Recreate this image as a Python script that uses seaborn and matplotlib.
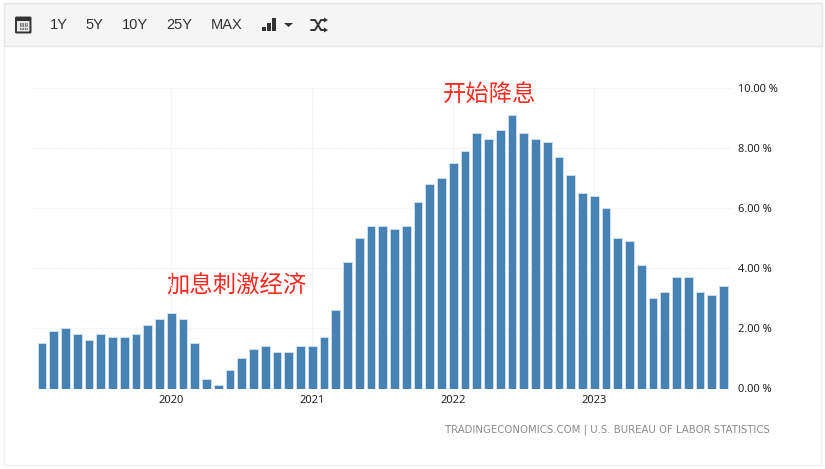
import pandas as pd
import matplotlib.pyplot as plt
import matplotlib.patches as mp
import seaborn as sns

# CPI anual, feb 2019 - dic 2023
meses = pd.date_range('2019-02-01', '2023-12-01', freq='MS').strftime('%Y-%m').tolist()
valores = [1.5, 1.9, 2.0, 1.8, 1.6, 1.8, 1.7, 1.7, 1.8, 2.1, 2.3,
           2.5, 2.3, 1.5, 0.3, 0.1, 0.6, 1.0, 1.3, 1.4, 1.2, 1.2, 1.4,
           1.4, 1.7, 2.6, 4.2, 5.0, 5.4, 5.4, 5.3, 5.4, 6.2, 6.8, 7.0,
           7.5, 7.9, 8.5, 8.3, 8.6, 9.1, 8.5, 8.3, 8.2, 7.7, 7.1, 6.5,
           6.4, 6.0, 5.0, 4.9, 4.1, 3.0, 3.2, 3.7, 3.7, 3.2, 3.1, 3.4]
anios = ['2020', '2021', '2022', '2023']
marcas_y = [0, 2, 4, 6, 8, 10]
botones = ['1Y', '5Y', '10Y', '25Y', 'MAX']
botones_x = [59, 94, 135, 179, 227]

W, H = 825, 469
df = pd.DataFrame({'mes': meses, 'valor': valores})

sns.set_style('white')
plt.rcParams['font.family'] = ['Liberation Sans', 'Noto Sans CJK SC', 'DejaVu Sans']

fig = plt.figure(figsize=(W / 100, H / 100), dpi=100, facecolor='#fdfdfd')

# capa en pixeles para el marco y la barra de botones
capa = fig.add_axes([0, 0, 1, 1])
capa.set_xlim(0, W)
capa.set_ylim(H, 0)
capa.axis('off')
capa.add_patch(mp.Rectangle((4, 46), 817, 419, fc='white', ec='#f2f2f2', lw=1))
capa.add_patch(mp.Rectangle((4, 3), 818, 43, fc='#f5f5f5', ec='#e6e6e6', lw=1))
for b, x in zip(botones, botones_x):
    capa.text(x, 25, b, ha='center', va='center', fontsize=10.5, color='#333333')

# icono calendario
capa.add_patch(mp.FancyBboxPatch((16.5, 18), 13.5, 14, boxstyle='round,pad=0.5', fc='#e8e8e8', ec='#333333', lw=1.4))
capa.add_patch(mp.Rectangle((16, 17.5), 14.5, 3.5, fc='#333333', ec='none'))
for fila in (24, 26.5, 29):
    capa.plot([19.5, 28], [fila, fila], color='#555555', lw=1.1, ls=(0, (1, 0.6)))

# icono barras y flecha
for x0, alto in zip((262, 267.2, 272.4), (4.5, 8.5, 13.5)):
    capa.add_patch(mp.Rectangle((x0, 31.5 - alto), 3.8, alto, fc='#333333', ec='none'))
capa.add_patch(mp.Polygon([(284, 23), (293, 23), (288.5, 27)], fc='#333333', ec='none'))

# icono aleatorio
capa.plot([311, 315, 321, 325], [20, 20, 30, 30], color='#333333', lw=1.4)
capa.plot([311, 315, 321, 325], [30, 30, 20, 20], color='#333333', lw=1.4)
capa.add_patch(mp.Polygon([(324, 17.5), (328, 20), (324, 22.5)], fc='#333333', ec='none'))
capa.add_patch(mp.Polygon([(324, 27.5), (328, 30), (324, 32.5)], fc='#333333', ec='none'))

# grafico principal
izq, der, arriba, abajo = 32, 733, 88, 388.5
ax = fig.add_axes([izq / W, 1 - abajo / H, (der - izq) / W, (abajo - arriba) / H])
ax.patch.set_alpha(0)
sns.barplot(data=df, x='mes', y='valor', color='#4682b4', saturation=1, width=0.75,
            edgecolor='#d3e2ef', linewidth=0.6, ax=ax, zorder=3)

ax.set_xlim(-0.85, 58.81)
ax.set_ylim(0, 10)
ax.set_xlabel('')
ax.set_ylabel('')
for s in ax.spines.values():
    s.set_visible(False)

pos_anios = [meses.index(a + '-01') for a in anios]
ax.set_xticks(pos_anios)
ax.set_xticklabels(anios, fontsize=8, color='#222222', family=['Noto Sans'])
ax.set_yticks(marcas_y)
ax.set_yticklabels(['%.2f %%' % v for v in marcas_y], fontsize=8, color='#222222', family=['Noto Sans'])
ax.yaxis.tick_right()
ax.tick_params(axis='x', length=0, pad=5)
ax.tick_params(axis='y', length=0, pad=3.5)
ax.grid(True, color='#f1f1f1', lw=0.8, ls=(0, (2, 1)), zorder=0)
ax.set_axisbelow(True)

capa.text(770, 430, 'TRADINGECONOMICS.COM | U.S. BUREAU OF LABOR STATISTICS', ha='right', va='center',
          fontsize=7.3, color='#8a8a8a', family=['DejaVu Sans'])
capa.text(236.5, 286, '加息刺激经济', ha='center', va='center', fontsize=16.8, color='#ff2a1f',
          fontweight='medium', family=['Noto Sans CJK SC', 'DejaVu Sans'])
capa.text(490, 94, '开始降息', ha='center', va='center', fontsize=16.8, color='#ff2a1f',
          fontweight='medium', family=['Noto Sans CJK SC', 'DejaVu Sans'])

fig.savefig('out.png', dpi=100)
